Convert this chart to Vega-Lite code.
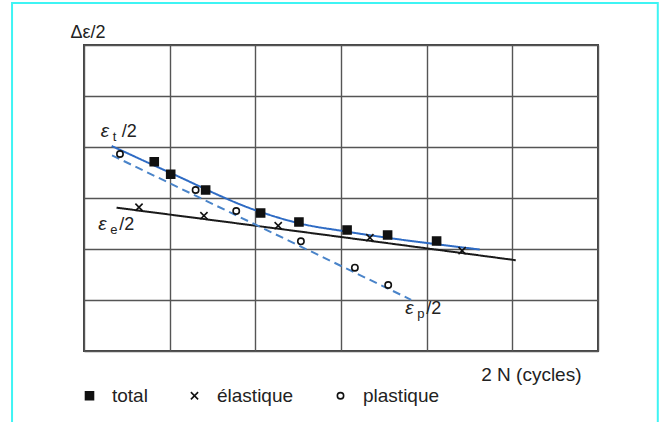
{
  "$schema": "https://vega.github.io/schema/vega-lite/v6.json",
  "width": 514,
  "height": 306,
  "autosize": {"type": "none"},
  "padding": {"left": 84, "top": 45, "right": 67, "bottom": 71},
  "background": "white",
  "config": {
    "font": "Liberation Sans",
    "view": {"stroke": "#444", "strokeWidth": 2},
    "axis": {"grid": true, "gridColor": "#555", "gridWidth": 1.4, "gridOpacity": 1, "labels": false, "ticks": false, "domain": false, "titleFont": "Liberation Sans", "titleFontWeight": "normal", "titleColor": "#222"}
  },
  "datasets": {
    "pts": [
      {"x": 0.820, "y": 3.712, "type": "total"},
      {"x": 1.012, "y": 3.465, "type": "total"},
      {"x": 1.420, "y": 3.157, "type": "total"},
      {"x": 2.062, "y": 2.706, "type": "total"},
      {"x": 2.509, "y": 2.529, "type": "total"},
      {"x": 3.071, "y": 2.373, "type": "total"},
      {"x": 3.544, "y": 2.275, "type": "total"},
      {"x": 4.116, "y": 2.157, "type": "total"},
      {"x": 0.642, "y": 2.818, "type": "élastique"},
      {"x": 1.400, "y": 2.653, "type": "élastique"},
      {"x": 2.267, "y": 2.457, "type": "élastique"},
      {"x": 3.337, "y": 2.222, "type": "élastique"},
      {"x": 4.414, "y": 1.967, "type": "élastique"},
      {"x": 0.420, "y": 3.863, "type": "plastique"},
      {"x": 1.303, "y": 3.157, "type": "plastique"},
      {"x": 1.777, "y": 2.745, "type": "plastique"},
      {"x": 2.532, "y": 2.151, "type": "plastique"},
      {"x": 3.162, "y": 1.633, "type": "plastique"},
      {"x": 3.551, "y": 1.294, "type": "plastique"}
    ],
    "curves": [
      {"x": 0.323, "y": 4.02, "curve": "total"},
      {"x": 1.0, "y": 3.50, "curve": "total"},
      {"x": 2.02, "y": 2.75, "curve": "total"},
      {"x": 2.52, "y": 2.50, "curve": "total"},
      {"x": 3.07, "y": 2.34, "curve": "total"},
      {"x": 4.62, "y": 1.99, "curve": "total"},
      {"x": 0.38, "y": 2.81, "curve": "elastic"},
      {"x": 2.03, "y": 2.45, "curve": "elastic"},
      {"x": 5.04, "y": 1.78, "curve": "elastic"},
      {"x": 0.327, "y": 3.836, "curve": "plastic"},
      {"x": 3.819, "y": 1.004, "curve": "plastic"}
    ],
    "labels": [
      {"x": 0.195, "y": 4.32, "sym": "ε", "sub": "t", "rest": "/2"},
      {"x": 0.165, "y": 2.50, "sym": "ε", "sub": "e", "rest": "/2"},
      {"x": 3.75, "y": 0.85, "sym": "ε", "sub": "p", "rest": "/2"}
    ],
    "frame": [
      {"x": -0.840, "x2": 6.698, "y": 6.824, "y2": -1.6}
    ]
  },
  "encoding": {
    "x": {"field": "x", "type": "quantitative", "scale": {"domain": [0, 6], "nice": false, "zero": false}, "axis": {"values": [0, 1, 2, 3, 4, 5, 6], "title": "2 N (cycles)", "titleFontSize": 19, "titleAlign": "right", "titleAnchor": "end", "titleBaseline": "alphabetic", "titleX": 497, "titleY": 29}},
    "y": {"field": "y", "type": "quantitative", "scale": {"domain": [0, 6], "nice": false, "zero": false}, "axis": {"values": [0, 1, 2, 3, 4, 5, 6], "title": "Δε/2", "titleFontSize": 18, "titleAngle": 0, "titleAlign": "left", "titleBaseline": "alphabetic", "titleX": -14, "titleY": -8}}
  },
  "layer": [
    {
      "data": {"name": "frame"},
      "mark": {"type": "rect", "fill": null, "fillOpacity": 0, "stroke": "#3ff4f4", "strokeWidth": 2, "clip": false},
      "encoding": {"x2": {"field": "x2"}, "y2": {"field": "y2"}}
    },
    {
      "data": {"name": "curves"},
      "mark": {"type": "line", "strokeWidth": 2, "interpolate": "monotone"},
      "encoding": {
        "color": {"field": "curve", "type": "nominal", "scale": {"domain": ["total", "elastic", "plastic"], "range": ["#2e6bc4", "#1a1a1a", "#4a84c9"]}, "legend": null},
        "strokeDash": {"field": "curve", "type": "nominal", "scale": {"domain": ["total", "elastic", "plastic"], "range": [[1, 0], [1, 0], [8, 5]]}, "legend": null}
      }
    },
    {
      "data": {"name": "pts"},
      "mark": {"type": "point", "strokeWidth": 1.6, "opacity": 1},
      "encoding": {
        "shape": {"field": "type", "type": "nominal", "scale": {"domain": ["total", "élastique", "plastique"], "range": ["square", "M-1,-1L1,1M1,-1L-1,1", "circle"]}, "legend": {"title": null, "orient": "none", "direction": "horizontal", "legendX": -4, "legendY": 341, "labelFontSize": 19, "labelFont": "Liberation Sans", "labelColor": "#222", "labelOffset": 13, "columnPadding": 37, "symbolStrokeWidth": 1.6}},
        "fill": {"field": "type", "type": "nominal", "scale": {"domain": ["total", "élastique", "plastique"], "range": ["#111", "#111", "#ffffff"]}},
        "stroke": {"field": "type", "type": "nominal", "scale": {"domain": ["total", "élastique", "plastique"], "range": ["#111", "#111", "#111"]}},
        "size": {"field": "type", "type": "nominal", "scale": {"domain": ["total", "élastique", "plastique"], "range": [64, 40, 36]}}
      }
    },
    {
      "data": {"name": "labels"},
      "mark": {"type": "text", "align": "left", "baseline": "alphabetic", "dy": 6, "fontSize": 19, "fontStyle": "italic", "font": "Liberation Sans", "color": "#222"},
      "encoding": {"text": {"field": "sym"}}
    },
    {
      "data": {"name": "labels"},
      "mark": {"type": "text", "align": "left", "baseline": "alphabetic", "dx": 12, "dy": 10, "fontSize": 13, "font": "Liberation Sans", "color": "#222"},
      "encoding": {"text": {"field": "sub"}}
    },
    {
      "data": {"name": "labels"},
      "mark": {"type": "text", "align": "left", "baseline": "alphabetic", "dx": 21, "dy": 6, "fontSize": 18, "font": "Liberation Sans", "color": "#222"},
      "encoding": {"text": {"field": "rest"}}
    }
  ]
}
